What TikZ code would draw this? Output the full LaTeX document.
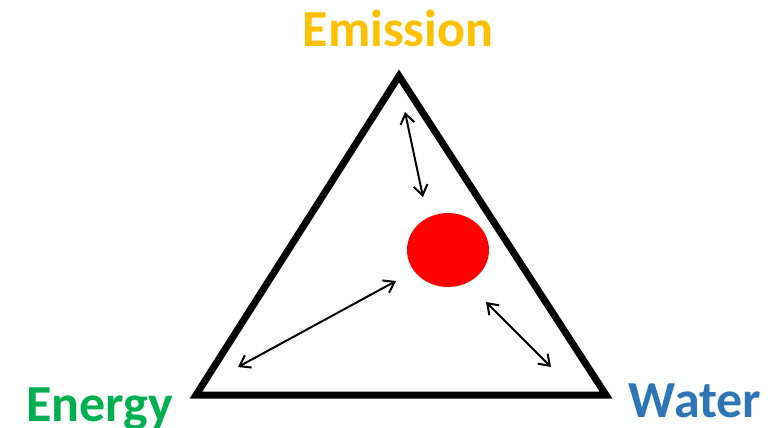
\documentclass[tikz,border=0pt]{standalone}
\usepackage{fontspec}
\setmainfont{Carlito}
\usetikzlibrary{arrows.meta,shapes.geometric}
\definecolor{emc}{HTML}{FFC000}
\definecolor{enc}{HTML}{00B050}
\definecolor{wac}{HTML}{2E75B6}
\tikzset{
  lbl/.style={font=\fontsize{52}{52}\selectfont\bfseries, anchor=base, inner sep=0pt},
  dbl/.style={line width=2pt, {Straight Barb[length=10pt,width=14pt,line width=2pt]}-{Straight Barb[length=10pt,width=14pt,line width=2pt]}},
  tri/.style={line width=7pt, line join=miter}
}
\begin{document}
\begin{tikzpicture}[x=1pt,y=-1pt]
\useasboundingbox (0,0) rectangle (768,428);
\coordinate (T) at (399,76);
\coordinate (L) at (196,395);
\coordinate (R) at (606,395);
\draw[tri] (T) -- (L) -- (R) -- cycle;
\node[ellipse, fill=red, minimum width=82pt, minimum height=74pt, inner sep=0pt] (dot) at (448,250) {};
\node[lbl, text=emc] (em) at (398,47) {Emission};
\node[lbl, text=enc] (en) at (99.5,421) {Energy};
\node[lbl, text=wac] (wa) at (695,417) {Water};
\coordinate (a1) at (405,112);
\coordinate (b1) at (423,197);
\coordinate (a2) at (238,367);
\coordinate (b2) at (396,281);
\coordinate (a3) at (486,302);
\coordinate (b3) at (551,367);
\draw[dbl] (a1) -- (b1);
\draw[dbl] (a2) -- (b2);
\draw[dbl] (a3) -- (b3);
\end{tikzpicture}
\end{document}
